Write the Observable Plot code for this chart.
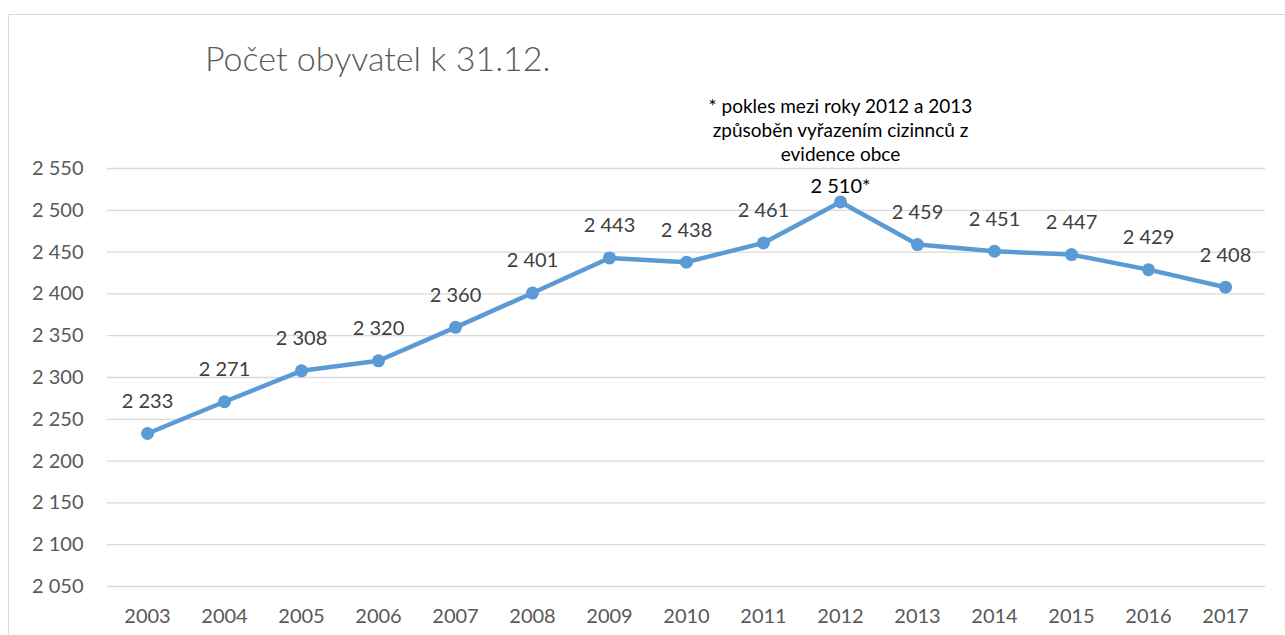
<!DOCTYPE html>
<html>
<head>
<meta charset="utf-8">
<script src="https://cdn.jsdelivr.net/npm/d3@7"></script>
<script src="https://cdn.jsdelivr.net/npm/@observablehq/plot@0.6"></script>
<style>
  body { margin: 0; background: #fff; }
  #wrap { position: relative; width: 1285px; height: 635px; overflow: hidden; background: #fff; }
  #border { position: absolute; left: 8px; top: 14px; width: 1290px; height: 640px; border: 1px solid #d9d9d9; box-sizing: border-box; }
  #title { position: absolute; left: 205px; top: 41px; font-family: Lato, sans-serif; font-weight: 300; font-size: 34px; line-height: 1; color: #595959; white-space: nowrap; }
  #chart { position: absolute; left: 0; top: 0; }
</style>
</head>
<body>
<div id="wrap">
  <div id="border"></div>
  <div id="chart"></div>
  <div id="title">Počet obyvatel k 31.12.</div>
</div>
<script>
const years = ["2003","2004","2005","2006","2007","2008","2009","2010","2011","2012","2013","2014","2015","2016","2017"];
const population = [2233, 2271, 2308, 2320, 2360, 2401, 2443, 2438, 2461, 2510, 2459, 2451, 2447, 2429, 2408];
const yTicks = [2050, 2100, 2150, 2200, 2250, 2300, 2350, 2400, 2450, 2500, 2550];
const noteYear = "2012";
const noteText = "* pokles mezi roky 2012 a 2013\nzpůsoběn vyřazením cizinnců z\nevidence obce";

const fmt = v => d3.format(",")(v).replace(/,/g, " ");
const data = years.map((y, i) => ({year: y, value: population[i], label: fmt(population[i]) + (y === noteYear ? "*" : "")}));

const chart = Plot.plot({
  width: 1285,
  height: 635,
  marginLeft: 107,
  marginRight: 20,
  marginTop: 168,
  marginBottom: 49,
  style: { fontFamily: "Lato, sans-serif", fontSize: "20px", color: "#595959", background: "transparent", overflow: "visible" },
  x: { type: "point", domain: years, padding: 0.5 },
  y: { domain: [2050, 2550] },
  marks: [
    Plot.gridY(yTicks, { stroke: "#d9d9d9", strokeOpacity: 1, strokeWidth: 1.3 }),
    Plot.line(data, { x: "year", y: "value", stroke: "#5B9BD5", strokeWidth: 4.5 }),
    Plot.dot(data, { x: "year", y: "value", r: 6.5, fill: "#5B9BD5", stroke: "none" }),
    Plot.text(data.filter(d => d.year !== noteYear), { x: "year", y: "value", text: "label", dy: -32, fill: "#404040", fontSize: 20 }),
    Plot.text(data.filter(d => d.year === noteYear), { x: "year", y: "value", text: "label", dy: -15, fill: "#000000", fontSize: 20 }),
    Plot.text([{year: noteYear, value: 2550, t: noteText}], { x: "year", y: "value", text: "t", lineAnchor: "top", lineHeight: 1.28, dy: -73, fill: "#000000", fontSize: 19 }),
    Plot.axisY(yTicks, { tickSize: 0, tickPadding: 24, tickFormat: fmt, label: null }),
    Plot.axisX({ tickSize: 0, tickPadding: 22, label: null })
  ]
});
document.getElementById("chart").append(chart);
</script>
</body>
</html>
